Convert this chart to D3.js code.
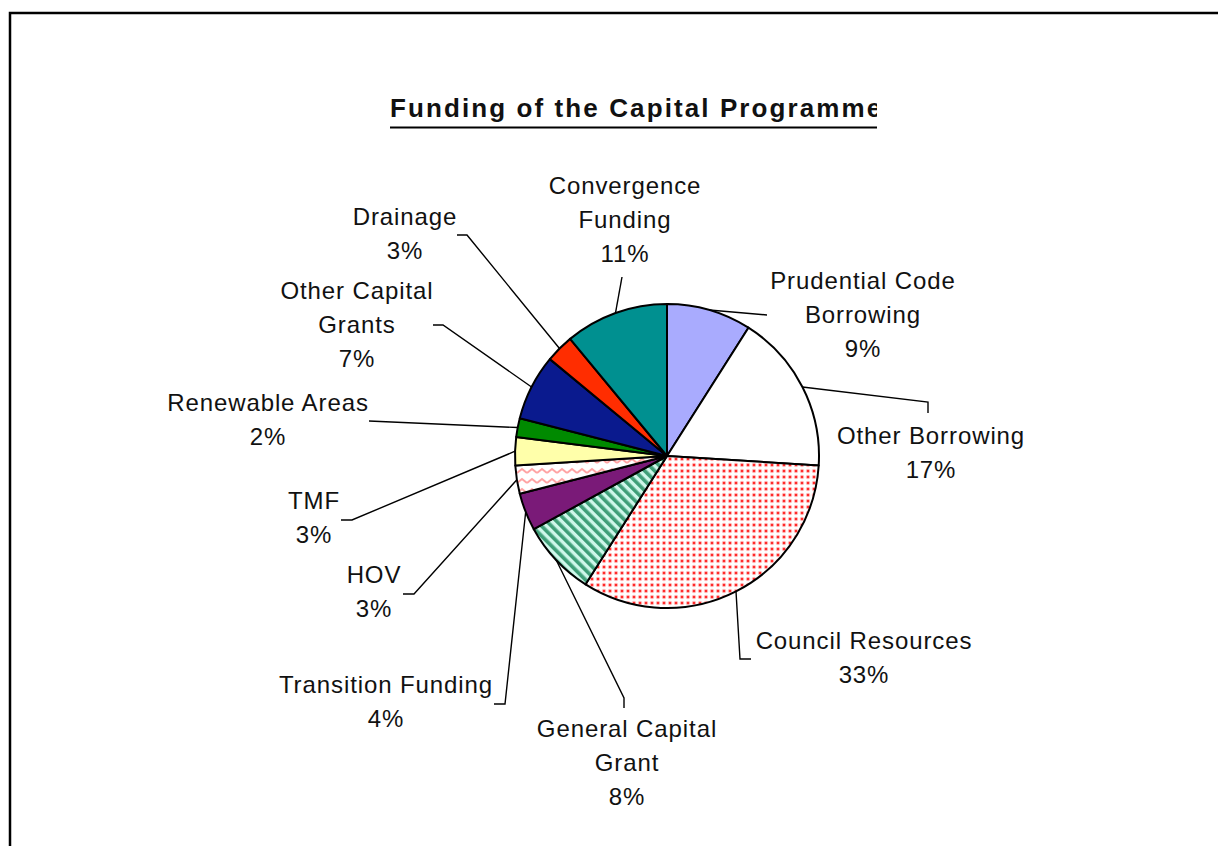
<!DOCTYPE html>
<html>
<head>
<meta charset="utf-8">
<script src="https://cdn.jsdelivr.net/npm/d3@7"></script>
<style>
  html, body { margin: 0; padding: 0; background: #fff; }
  svg { display: block; }
  text { font-family: "Liberation Sans", Arial, sans-serif; fill: #111; }
</style>
</head>
<body>
<svg id="chart" width="1218" height="846"></svg>
<script>
// Funding sources, in drawing order (clockwise from 12 o'clock)
const categories = [
  "Prudential Code Borrowing", "Other Borrowing", "Council Resources",
  "General Capital Grant", "Transition Funding", "HOV", "TMF",
  "Renewable Areas", "Other Capital Grants", "Drainage", "Convergence Funding"
];
// Share of the programme, percent
const values = [9, 17, 33, 8, 4, 3, 3, 2, 7, 3, 11];
// How each category name wraps in its label
const labelLines = [
  ["Prudential Code", "Borrowing"], ["Other Borrowing"], ["Council Resources"],
  ["General Capital", "Grant"], ["Transition Funding"], ["HOV"], ["TMF"],
  ["Renewable Areas"], ["Other Capital", "Grants"], ["Drainage"], ["Convergence", "Funding"]
];
const title = "Funding of the Capital Programme";

// ---- layout & style ----
const W = 1218, H = 846;
const cx = 667, cy = 456, R = 152;
const fontSize = 24, lineGap = 34;

// label centre x, first baseline y, and leader elbow points (label end first)
const labelLayout = [
  { x: 863, y: 289, leader: [[767, 315]] },
  { x: 931, y: 444, leader: [[928, 413], [928, 402]] },
  { x: 864, y: 649, leader: [[751, 659], [740, 659]] },
  { x: 627, y: 737, leader: [[624, 708], [624, 698]] },
  { x: 386, y: 693, leader: [[494, 704], [505, 704]] },
  { x: 374, y: 583, leader: [[403, 594], [414, 594]] },
  { x: 314, y: 509, leader: [[341, 520], [352, 520]] },
  { x: 268, y: 411, leader: [[369, 421]] },
  { x: 357, y: 299, leader: [[433, 325], [443, 325]] },
  { x: 405, y: 225, leader: [[457, 235], [467, 235]] },
  { x: 625, y: 194, leader: [[622, 277]] }
];

const svg = d3.select("#chart");
const defs = svg.append("defs");

// dotted fill
const dots = defs.append("pattern").attr("id", "pDots")
  .attr("patternUnits", "userSpaceOnUse").attr("width", 6).attr("height", 6);
dots.append("rect").attr("width", 6).attr("height", 6).attr("fill", "#fff");
dots.append("circle").attr("cx", 3).attr("cy", 3).attr("r", 2.3).attr("fill", "#ffc4c4");
dots.append("circle").attr("cx", 3).attr("cy", 3).attr("r", 1.3).attr("fill", "#ff2a2a");

// diagonal green stripes
const stripes = defs.append("pattern").attr("id", "pStripes")
  .attr("patternUnits", "userSpaceOnUse").attr("width", 7).attr("height", 7)
  .attr("patternTransform", "rotate(-45)");
stripes.append("rect").attr("width", 7).attr("height", 7).attr("fill", "#cff7ea");
stripes.append("rect").attr("width", 3.6).attr("height", 7).attr("fill", "#3f9e78");

// pink zigzag
const zig = defs.append("pattern").attr("id", "pZig")
  .attr("patternUnits", "userSpaceOnUse").attr("width", 10).attr("height", 10);
zig.append("rect").attr("width", 10).attr("height", 10).attr("fill", "#fff");
zig.append("path").attr("d", "M0,7 L5,3 L10,7").attr("fill", "none")
  .attr("stroke", "#ffa3a3").attr("stroke-width", 2);

const fills = [
  "#a9abfe", "#ffffff", "url(#pDots)", "url(#pStripes)", "#7a1a78", "url(#pZig)",
  "#ffffaa", "#008a00", "#0a1a8e", "#ff2d00", "#009090"
];

// frame
svg.append("rect").attr("x", 10).attr("y", 13).attr("width", W + 20).attr("height", H + 20)
  .attr("fill", "none").attr("stroke", "#000").attr("stroke-width", 2.5);

// title, clipped on the right like the chart area
defs.append("clipPath").attr("id", "titleClip")
  .append("rect").attr("x", 380).attr("y", 80).attr("width", 497).attr("height", 60);
const tg = svg.append("g").attr("clip-path", "url(#titleClip)");
tg.append("text").attr("x", 390).attr("y", 117)
  .attr("font-size", 26).attr("font-weight", "bold").attr("letter-spacing", 2.1)
  .text(title);
tg.append("line").attr("x1", 390).attr("x2", 880).attr("y1", 127.5).attr("y2", 127.5)
  .attr("stroke", "#000").attr("stroke-width", 2.2);

// pie
const pie = d3.pie().sort(null).value(d => d)(values);
const arc = d3.arc().innerRadius(0).outerRadius(R);

const g = svg.append("g").attr("transform", `translate(${cx},${cy})`);
g.selectAll("path.slice").data(pie).join("path")
  .attr("class", "slice")
  .attr("d", arc)
  .attr("fill", (d, i) => fills[i])
  .attr("stroke", "#000").attr("stroke-width", 2).attr("stroke-linejoin", "round");

// leader lines: label elbow(s) -> slice edge at mid-angle
const line = d3.line();
svg.append("g").selectAll("path").data(pie).join("path")
  .attr("d", (d, i) => {
    const mid = (d.startAngle + d.endAngle) / 2;
    const p = [cx + R * Math.sin(mid), cy - R * Math.cos(mid)];
    return line([...labelLayout[i].leader, p]);
  })
  .attr("fill", "none").attr("stroke", "#000").attr("stroke-width", 1.4);

// labels
const lg = svg.append("g");
pie.forEach((d, i) => {
  const L = labelLayout[i];
  const lines = [...labelLines[i], values[i] + "%"];
  const t = lg.append("text").attr("text-anchor", "middle")
    .attr("font-size", fontSize).attr("letter-spacing", 0.9);
  lines.forEach((s, k) => {
    t.append("tspan").attr("x", L.x).attr("y", L.y + k * lineGap).text(s);
  });
});
</script>
</body>
</html>
